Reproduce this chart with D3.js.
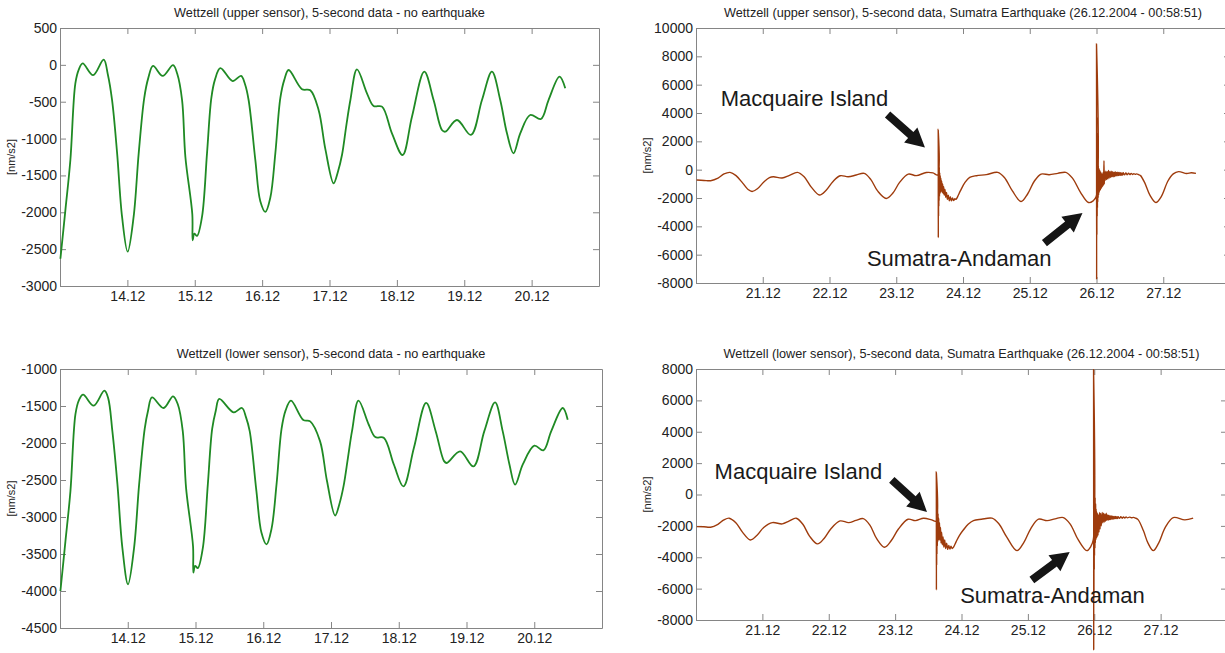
<!DOCTYPE html>
<html>
<head>
<meta charset="utf-8">
<script src="https://cdn.jsdelivr.net/npm/d3@7"></script>
<style>
  html, body { margin: 0; padding: 0; background: #fff; }
  svg { display: block; font-family: "Liberation Sans", Arial, sans-serif; }
  .frame path.domain, .frame line { stroke: #858585; }
</style>
</head>
<body>
<svg id="chart" width="1225" height="653"></svg>
<script>
// ---- tick values and labels (day of December 2004) ----
const quietDayTicks = [14, 15, 16, 17, 18, 19, 20];
const quietDayLabels = ["14.12", "15.12", "16.12", "17.12", "18.12", "19.12", "20.12"];
const quakeDayTicks = [21, 22, 23, 24, 25, 26, 27];
const quakeDayLabels = ["21.12", "22.12", "23.12", "24.12", "25.12", "26.12", "27.12"];

const upperQuietYTicks = [500, 0, -500, -1000, -1500, -2000, -2500, -3000];
const lowerQuietYTicks = [-1000, -1500, -2000, -2500, -3000, -3500, -4000, -4500];
const upperQuakeYTicks = [10000, 8000, 6000, 4000, 2000, 0, -2000, -4000, -6000, -8000];
const lowerQuakeYTicks = [8000, 6000, 4000, 2000, 0, -2000, -4000, -6000, -8000];

// ---- gravity residuals [day, nm/s2], 13.12 - 21.12, upper sensor ----
const upperQuiet = [
  [13.006,-2630],[13.08,-1970],[13.154,-1290],[13.228,-250],[13.28,-60],[13.337,20],[13.491,-140],
  [13.648,70],[13.71,-130],[13.773,-480],[13.847,-1190],[13.921,-2060],[14.004,-2535],[14.093,-2060],
  [14.168,-1200],[14.25,-450],[14.31,-180],[14.381,-15],[14.524,-150],[14.678,-5],[14.74,-120],
  [14.812,-477],[14.861,-1250],[14.964,-2030],[14.969,-2380],[14.994,-2290],[15.034,-2320],
  [15.108,-2060],[15.182,-1200],[15.246,-450],[15.30,-200],[15.38,-45],[15.562,-220],[15.687,-150],
  [15.745,-260],[15.80,-480],[15.899,-1290],[15.973,-1850],[16.048,-1995],[16.122,-1800],
  [16.196,-1200],[16.27,-450],[16.33,-200],[16.393,-70],[16.592,-330],[16.715,-345],[16.838,-612],
  [16.94,-1150],[17.061,-1607],[17.125,-1450],[17.186,-1220],[17.25,-820],[17.31,-477],[17.408,-60],
  [17.556,-386],[17.654,-558],[17.779,-567],[17.927,-929],[18.085,-1223],[18.224,-703],[18.407,-92],
  [18.545,-477],[18.669,-884],[18.718,-907],[18.892,-748],[19.099,-951],[19.263,-477],[19.411,-92],
  [19.534,-477],[19.634,-929],[19.731,-1200],[19.831,-929],[19.979,-680],[20.138,-734],
  [20.251,-477],[20.414,-160],[20.499,-318]
];

// ---- same interval, lower sensor ----
const lowerQuiet = [
  [13.006,-4000],[13.08,-3330],[13.154,-2650],[13.228,-1610],[13.28,-1420],[13.341,-1347],
  [13.497,-1496],[13.655,-1293],[13.71,-1390],[13.773,-1840],[13.847,-2550],[13.921,-3420],
  [14.004,-3910],[14.093,-3420],[14.168,-2560],[14.25,-1810],[14.30,-1560],[14.358,-1384],
  [14.529,-1527],[14.668,-1370],[14.74,-1480],[14.812,-1840],[14.861,-2610],[14.964,-3400],
  [14.969,-3750],[14.994,-3660],[15.034,-3690],[15.108,-3420],[15.182,-2560],[15.246,-1810],
  [15.30,-1560],[15.351,-1405],[15.562,-1586],[15.686,-1527],[15.745,-1650],[15.80,-1840],
  [15.899,-2650],[15.973,-3210],[16.048,-3370],[16.122,-3160],[16.196,-2560],[16.27,-1810],
  [16.33,-1560],[16.409,-1428],[16.592,-1690],[16.693,-1708],[16.838,-1975],[16.94,-2510],
  [17.061,-2980],[17.125,-2820],[17.186,-2580],[17.25,-2200],[17.31,-1840],[17.406,-1428],
  [17.556,-1750],[17.654,-1920],[17.779,-1930],[17.927,-2290],[18.069,-2586],[18.224,-2065],
  [18.404,-1459],[18.545,-1840],[18.669,-2245],[18.709,-2270],[18.906,-2113],[19.102,-2316],
  [19.263,-1840],[19.422,-1451],[19.534,-1840],[19.634,-2290],[19.717,-2563],[19.831,-2290],
  [20.002,-2036],[20.134,-2100],[20.251,-1840],[20.42,-1527],[20.494,-1685]
];

// ---- 20.12 - 28.12, upper sensor, with Macquarie Island and Sumatra-Andaman events ----
const upperQuake = [
  [20.01,-730],[20.12,-760],[20.22,-780],[20.33,-600],[20.42,-300],[20.51,-190],[20.60,-420],
  [20.70,-950],[20.78,-1400],[20.84,-1540],[20.92,-1350],[21.02,-850],[21.10,-560],[21.16,-496],
  [21.29,-590],[21.40,-400],[21.52,-190],[21.62,-500],[21.73,-1250],[21.85,-1790],[21.95,-1450],
  [22.05,-850],[22.16,-430],[22.28,-500],[22.40,-380],[22.52,-260],[22.62,-700],[22.72,-1500],
  [22.85,-2035],[22.95,-1650],[23.05,-900],[23.18,-310],[23.30,-420],[23.45,-200],[23.55,-230],
  [23.62,-380],
  [23.628,2850],[23.630,-4800],[23.632,1900],[23.634,-3300],[23.636,1200],[23.638,-2600],
  [23.640,600],[23.642,-2200],[23.645,200],[23.648,-1900],[23.651,-200],[23.655,-1700],
  [23.659,-400],[23.664,-1600],[23.669,-600],[23.675,-1500],[23.681,-800],[23.688,-1600],
  [23.695,-1000],[23.703,-1700],[23.711,-1200],[23.720,-1800],[23.730,-1400],[23.741,-1950],
  [23.753,-1600],[23.766,-2100],[23.780,-1800],[23.795,-2200],[23.810,-1900],[23.826,-2200],
  [23.843,-2000],[23.860,-2180],[23.878,-2050],[23.895,-2100],[23.92,-1900],[23.96,-1500],
  [24.03,-900],[24.10,-550],[24.20,-425],[24.35,-350],[24.52,-190],[24.62,-550],[24.74,-1500],
  [24.87,-2250],[24.97,-1700],[25.07,-800],[25.17,-310],[25.29,-355],[25.42,-260],[25.54,-190],
  [25.64,-600],[25.76,-1600],[25.88,-2320],[25.95,-2200],[25.995,-1900],
  [26.000,8900],[26.002,-7750],[26.004,3700],[26.006,-4600],[26.008,2600],[26.010,-3300],
  [26.012,1700],[26.014,-2700],[26.016,1000],[26.019,-2300],[26.022,600],[26.025,-2000],
  [26.028,300],[26.032,-1800],[26.036,100],[26.040,-1600],[26.045,0],[26.050,-1500],
  [26.056,-100],[26.062,-1400],[26.068,-200],[26.075,-1300],[26.082,-300],[26.090,-1200],
  [26.098,-200],[26.106,-1100],[26.112,640],[26.116,-1000],
  [26.12,-150],[26.13,-750],[26.14,-100],[26.15,-700],[26.16,-150],[26.17,-650],[26.18,-50],
  [26.19,-600],[26.20,-150],[26.21,-550],[26.22,-100],[26.23,-500],[26.24,-150],[26.25,-500],
  [26.26,-180],[26.27,-480],[26.28,-150],[26.29,-450],[26.30,-200],[26.31,-430],[26.32,-180],
  [26.33,-420],[26.34,-200],[26.35,-400],[26.36,-220],[26.37,-400],[26.38,-230],[26.39,-380],
  [26.40,-220],[26.42,-370],[26.44,-240],[26.46,-360],[26.48,-250],[26.50,-350],[26.52,-260],
  [26.54,-340],[26.56,-280],[26.58,-330],[26.60,-300],[26.63,-350],[26.66,-420],
  [26.72,-900],[26.80,-1800],[26.89,-2320],[26.97,-1900],[27.07,-800],[27.15,-300],
  [27.23,-140],[27.35,-270],[27.42,-220],[27.49,-260]
];

// ---- 20.12 - 28.12, lower sensor ----
const lowerQuake = [
  [20.012,-2050],[20.12,-2060],[20.22,-2085],[20.33,-1900],[20.42,-1620],[20.50,-1510],
  [20.60,-1800],[20.70,-2400],[20.82,-2900],[20.92,-2600],[21.02,-2100],[21.15,-1790],
  [21.30,-1875],[21.40,-1700],[21.51,-1510],[21.61,-1900],[21.71,-2650],[21.83,-3150],
  [21.93,-2800],[22.03,-2200],[22.17,-1685],[22.30,-1790],[22.41,-1650],[22.52,-1535],
  [22.62,-1950],[22.72,-2800],[22.84,-3360],[22.94,-2950],[23.05,-2200],[23.195,-1575],
  [23.305,-1665],[23.43,-1510],[23.55,-1620],[23.615,-1700],
  [23.620,1460],[23.622,-6090],[23.624,900],[23.626,-4500],[23.628,300],[23.630,-3800],
  [23.633,-300],[23.636,-3300],[23.639,-800],[23.643,-3000],[23.647,-1200],[23.652,-2900],
  [23.657,-1500],[23.663,-2900],[23.669,-1800],[23.676,-2900],[23.684,-2100],[23.692,-3100],
  [23.701,-2400],[23.711,-3200],[23.722,-2700],[23.734,-3350],[23.747,-2900],[23.761,-3450],
  [23.776,-3100],[23.792,-3500],[23.808,-3250],[23.825,-3480],[23.842,-3300],[23.86,-3450],
  [23.88,-3350],[23.92,-3000],[23.97,-2600],[24.03,-2250],[24.10,-1900],[24.18,-1665],
  [24.30,-1580],[24.46,-1510],[24.56,-1850],[24.68,-2700],[24.835,-3580],[24.94,-3050],
  [25.04,-2200],[25.16,-1575],[25.29,-1665],[25.41,-1550],[25.535,-1470],[25.64,-1900],
  [25.76,-2900],[25.887,-3580],[25.95,-3300],[25.985,-2900],
  [25.990,7950],[25.992,-9900],[25.994,2530],[25.996,-6500],[25.998,2000],[26.000,-4800],
  [26.002,1200],[26.004,-3900],[26.007,500],[26.010,-3400],[26.013,-200],[26.016,-3100],
  [26.020,-600],[26.024,-2900],[26.028,-900],[26.033,-2800],[26.038,-1100],[26.044,-2700],
  [26.050,-1200],[26.057,-2600],[26.064,-1300],[26.072,-2400],[26.080,-1150],[26.088,-2200],
  [26.096,-1200],[26.105,-2000],
  [26.12,-1150],[26.13,-1800],[26.14,-1200],[26.15,-1750],[26.16,-1250],[26.17,-1700],
  [26.18,-1200],[26.19,-1650],[26.20,-1300],[26.21,-1650],[26.22,-1320],[26.23,-1600],
  [26.24,-1350],[26.25,-1600],[26.26,-1360],[26.27,-1580],[26.28,-1380],[26.29,-1560],
  [26.30,-1400],[26.31,-1550],[26.32,-1400],[26.33,-1540],[26.34,-1410],[26.35,-1530],
  [26.36,-1420],[26.38,-1520],[26.40,-1420],[26.42,-1510],[26.44,-1430],[26.46,-1500],
  [26.48,-1430],[26.50,-1490],[26.53,-1440],[26.56,-1480],[26.59,-1460],[26.62,-1500],
  [26.66,-1600],
  [26.74,-2300],[26.81,-3100],[26.89,-3580],[26.97,-3100],[27.07,-2100],[27.19,-1470],
  [27.365,-1620],[27.49,-1510]
];

// ---- event annotations: label anchor and arrow (tail -> tip) in data units ----
const upperNotes = [
  { text: "Macquaire Island", at: [20.37, 4470], tail: [22.87, 3900], tip: [23.43, 1560] },
  { text: "Sumatra-Andaman", at: [22.56, -6810], tail: [25.22, -5180], tip: [25.79, -3050] }
];
const lowerNotes = [
  { text: "Macquaire Island", at: [20.28, 1000], tail: [22.95, 930], tip: [23.48, -1110] },
  { text: "Sumatra-Andaman", at: [23.98, -6910], tail: [25.06, -5450], tip: [25.63, -3660] }
];

const GREEN = "#1f8a24";
const BROWN = "#9e3b0c";

const svg = d3.select("#chart");

function panel(cfg) {
  const w = cfg.right - cfg.left, h = cfg.bottom - cfg.top;
  const x = d3.scaleLinear().domain(cfg.xDomain).range([0, w]);
  const y = d3.scaleLinear().domain(cfg.yDomain).range([h, 0]);
  const g = svg.append("g").attr("transform", `translate(${cfg.left},${cfg.top})`);

  // title
  svg.append("text")
    .attr("x", (cfg.left + cfg.right) / 2).attr("y", cfg.top - 11.5)
    .attr("text-anchor", "middle").attr("font-size", 12.7).attr("fill", "#222")
    .text(cfg.title);

  // y label
  svg.append("text")
    .attr("transform", `translate(${cfg.left - cfg.yLabelOffset},${(cfg.top + cfg.bottom) / 2}) rotate(-90)`)
    .attr("text-anchor", "middle").attr("font-size", 11).attr("fill", "#222")
    .text("[nm/s2]");

  // box axes with inward ticks
  const fmt = (labels, ticks) => d => labels[ticks.indexOf(d)];
  const ax = [
    g.append("g").attr("transform", `translate(0,${h})`)
      .call(d3.axisBottom(x).tickValues(cfg.xTicks).tickFormat(fmt(cfg.xLabels, cfg.xTicks))
        .tickSizeInner(-6).tickSizeOuter(0).tickPadding(5)),
    g.append("g")
      .call(d3.axisTop(x).tickValues(cfg.xTicks).tickFormat("").tickSizeInner(-6).tickSizeOuter(0)),
    g.append("g")
      .call(d3.axisLeft(y).tickValues(cfg.yTicks).tickFormat(d => String(d))
        .tickSizeInner(-6).tickSizeOuter(0).tickPadding(3)),
    g.append("g").attr("transform", `translate(${w},0)`)
      .call(d3.axisRight(y).tickValues(cfg.yTicks).tickFormat("").tickSizeInner(-6).tickSizeOuter(0))
  ];
  ax.forEach(a => {
    a.attr("class", "frame");
    a.selectAll("text").attr("font-size", 14).attr("fill", "#222")
      .attr("font-family", "'Liberation Sans', Arial, sans-serif");
  });

  // signal
  const line = d3.line().x(d => x(d[0])).y(d => y(d[1])).curve(d3.curveCatmullRom.alpha(0.5));
  g.append("path").datum(cfg.data)
    .attr("d", line).attr("fill", "none")
    .attr("stroke", cfg.color).attr("stroke-width", cfg.width)
    .attr("stroke-linejoin", "round");

  // annotations
  (cfg.notes || []).forEach(n => {
    g.append("text").attr("x", x(n.at[0])).attr("y", y(n.at[1]))
      .attr("font-size", 22).attr("fill", "#1a1a1a").text(n.text);
    const x1 = x(n.tail[0]), y1 = y(n.tail[1]), x2 = x(n.tip[0]), y2 = y(n.tip[1]);
    const len = Math.hypot(x2 - x1, y2 - y1);
    const ux = (x2 - x1) / len, uy = (y2 - y1) / len, nx = -uy, ny = ux;
    const sw = 4, hw = 10, hl = 19;
    const bx = x2 - ux * hl, by = y2 - uy * hl;
    const pts = [
      [x1 + nx * sw, y1 + ny * sw], [bx + nx * sw, by + ny * sw], [bx + nx * hw, by + ny * hw],
      [x2, y2],
      [bx - nx * hw, by - ny * hw], [bx - nx * sw, by - ny * sw], [x1 - nx * sw, y1 - ny * sw]
    ];
    g.append("path").attr("d", "M" + pts.map(p => p.join(",")).join("L") + "Z")
      .attr("fill", "#151515");
  });
}

panel({
  left: 60, top: 28, right: 599, bottom: 286, xDomain: [13, 21], yDomain: [-3000, 500],
  xTicks: quietDayTicks, xLabels: quietDayLabels, yTicks: upperQuietYTicks,
  title: "Wettzell (upper sensor), 5-second data - no earthquake",
  data: upperQuiet, color: GREEN, width: 1.8, yLabelOffset: 45
});
panel({
  left: 696, top: 28, right: 1230, bottom: 283, xDomain: [20, 28], yDomain: [-8000, 10000],
  xTicks: quakeDayTicks, xLabels: quakeDayLabels, yTicks: upperQuakeYTicks,
  title: "Wettzell (upper sensor), 5-second data, Sumatra Earthquake (26.12.2004 - 00:58:51)",
  data: upperQuake, color: BROWN, width: 1.4, notes: upperNotes, yLabelOffset: 45
});
panel({
  left: 60, top: 369, right: 602, bottom: 628, xDomain: [13, 21], yDomain: [-4500, -1000],
  xTicks: quietDayTicks, xLabels: quietDayLabels, yTicks: lowerQuietYTicks,
  title: "Wettzell (lower sensor), 5-second data - no earthquake",
  data: lowerQuiet, color: GREEN, width: 1.8, yLabelOffset: 45
});
panel({
  left: 696, top: 369, right: 1227, bottom: 620, xDomain: [20, 28], yDomain: [-8000, 8000],
  xTicks: quakeDayTicks, xLabels: quakeDayLabels, yTicks: lowerQuakeYTicks,
  title: "Wettzell (lower sensor), 5-second data, Sumatra Earthquake (26.12.2004 - 00:58:51)",
  data: lowerQuake, color: BROWN, width: 1.4, notes: lowerNotes, yLabelOffset: 45
});
</script>
</body>
</html>
